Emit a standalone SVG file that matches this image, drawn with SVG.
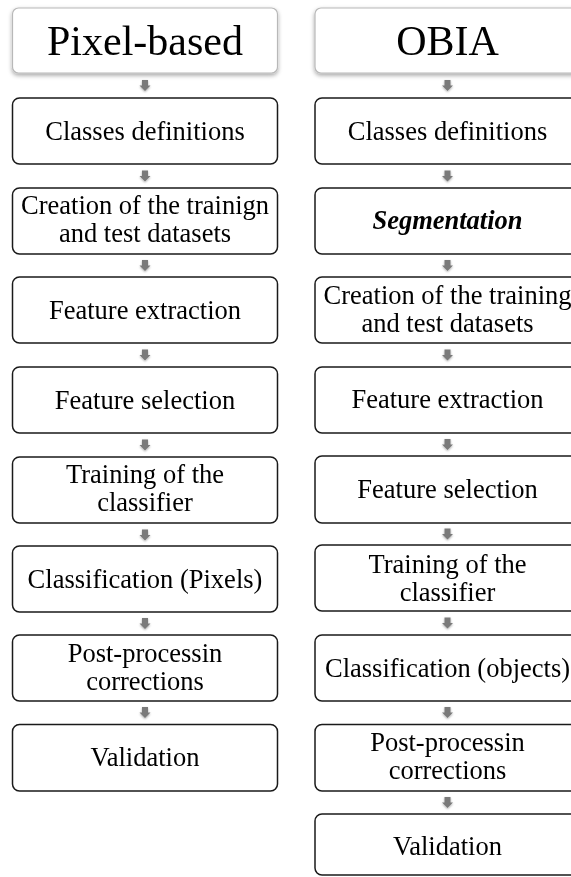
<svg xmlns="http://www.w3.org/2000/svg" width="571" height="877" viewBox="0 0 571 877">
  <style>
    .head { fill: #ffffff; stroke: #b8b8b8; stroke-width: 1.2; filter: url(#headShadow); }
    .box { fill: #ffffff; stroke: #1a1a1a; stroke-width: 1.5; }
    .ht { font-family: "Liberation Serif", "Times New Roman", serif; font-size: 42px; fill: #000; text-anchor: middle; }
    .t { font-family: "Liberation Serif", "Times New Roman", serif; font-size: 26.5px; fill: #000; text-anchor: middle; }
    .bi { font-weight: bold; font-style: italic; }
    .arrow { fill: #7a7a7a; filter: url(#arrowShadow); }
  </style>
  <defs>
    <filter id="headShadow" x="-10%" y="-20%" width="120%" height="150%">
      <feDropShadow dx="0" dy="2" stdDeviation="2" flood-color="#000" flood-opacity="0.35"/>
    </filter>
    <filter id="arrowShadow" x="-60%" y="-40%" width="220%" height="200%">
      <feDropShadow dx="0" dy="1" stdDeviation="1" flood-color="#000" flood-opacity="0.35"/>
    </filter>
    <!-- small block arrow pointing down, centred on its origin -->
    <path id="dn" d="M-3,-5.5 H3 V0 H5.5 L0,5.5 L-5.5,0 H-3 Z"/>
  </defs>

  <rect width="571" height="877" fill="#ffffff"/>

  <!-- connectors -->
  <g id="connectors" class="arrow">
    <use href="#dn" x="145" y="85.5"/>
    <use href="#dn" x="145" y="176"/>
    <use href="#dn" x="145" y="265.5"/>
    <use href="#dn" x="145" y="355"/>
    <use href="#dn" x="145" y="445"/>
    <use href="#dn" x="145" y="535"/>
    <use href="#dn" x="145" y="623.5"/>
    <use href="#dn" x="145" y="712.5"/>

    <use href="#dn" x="447.5" y="85.5"/>
    <use href="#dn" x="447.5" y="176"/>
    <use href="#dn" x="447.5" y="265.5"/>
    <use href="#dn" x="447.5" y="355"/>
    <use href="#dn" x="447.5" y="444.5"/>
    <use href="#dn" x="447.5" y="534"/>
    <use href="#dn" x="447.5" y="623"/>
    <use href="#dn" x="447.5" y="712.5"/>
    <use href="#dn" x="447.5" y="802.5"/>
  </g>

  <!-- Pixel-based column -->
  <g id="pixel-head">
    <rect class="head" x="12.5" y="8" width="265" height="65" rx="6"/>
    <text class="ht" x="145" y="55">Pixel-based</text>
  </g>
  <g id="pixel-classes">
    <rect class="box" x="12.5" y="98" width="265" height="66" rx="7"/>
    <text class="t" x="145" y="140">Classes definitions</text>
  </g>
  <g id="pixel-datasets">
    <rect class="box" x="12.5" y="188" width="265" height="66" rx="7"/>
    <text class="t" x="145" y="213.5">Creation of the trainign</text>
    <text class="t" x="145" y="241.5">and test datasets</text>
  </g>
  <g id="pixel-extraction">
    <rect class="box" x="12.5" y="277" width="265" height="66" rx="7"/>
    <text class="t" x="145" y="318.5">Feature extraction</text>
  </g>
  <g id="pixel-selection">
    <rect class="box" x="12.5" y="367" width="265" height="66" rx="7"/>
    <text class="t" x="145" y="408.5">Feature selection</text>
  </g>
  <g id="pixel-training">
    <rect class="box" x="12.5" y="457" width="265" height="66" rx="7"/>
    <text class="t" x="145" y="482.5">Training of the</text>
    <text class="t" x="145" y="510.5">classifier</text>
  </g>
  <g id="pixel-classification">
    <rect class="box" x="12.5" y="546" width="265" height="66" rx="7"/>
    <text class="t" x="145" y="587.5">Classification (Pixels)</text>
  </g>
  <g id="pixel-post">
    <rect class="box" x="12.5" y="635" width="265" height="66" rx="7"/>
    <text class="t" x="145" y="661.5">Post-processin</text>
    <text class="t" x="145" y="689.5">corrections</text>
  </g>
  <g id="pixel-validation">
    <rect class="box" x="12.5" y="724.5" width="265" height="66.5" rx="7"/>
    <text class="t" x="145" y="765.5">Validation</text>
  </g>

  <!-- OBIA column -->
  <g id="obia-head">
    <rect class="head" x="315" y="8" width="265" height="65" rx="6"/>
    <text class="ht" x="447.5" y="55">OBIA</text>
  </g>
  <g id="obia-classes">
    <rect class="box" x="315" y="98" width="265" height="66" rx="7"/>
    <text class="t" x="447.5" y="140">Classes definitions</text>
  </g>
  <g id="obia-segmentation">
    <rect class="box" x="315" y="188" width="265" height="66" rx="7"/>
    <text class="t bi" x="447.5" y="228.5">Segmentation</text>
  </g>
  <g id="obia-datasets">
    <rect class="box" x="315" y="277" width="265" height="66" rx="7"/>
    <text class="t" x="447.5" y="303.5">Creation of the training</text>
    <text class="t" x="447.5" y="331.5">and test datasets</text>
  </g>
  <g id="obia-extraction">
    <rect class="box" x="315" y="367" width="265" height="66" rx="7"/>
    <text class="t" x="447.5" y="408">Feature extraction</text>
  </g>
  <g id="obia-selection">
    <rect class="box" x="315" y="456" width="265" height="67" rx="7"/>
    <text class="t" x="447.5" y="497.5">Feature selection</text>
  </g>
  <g id="obia-training">
    <rect class="box" x="315" y="545" width="265" height="66" rx="7"/>
    <text class="t" x="447.5" y="572.5">Training of the</text>
    <text class="t" x="447.5" y="600.5">classifier</text>
  </g>
  <g id="obia-classification">
    <rect class="box" x="315" y="635" width="265" height="66" rx="7"/>
    <text class="t" x="447.5" y="676.5">Classification (objects)</text>
  </g>
  <g id="obia-post">
    <rect class="box" x="315" y="724.5" width="265" height="66.5" rx="7"/>
    <text class="t" x="447.5" y="750.5">Post-processin</text>
    <text class="t" x="447.5" y="778.5">corrections</text>
  </g>
  <g id="obia-validation">
    <rect class="box" x="315" y="814" width="265" height="61" rx="7"/>
    <text class="t" x="447.5" y="855">Validation</text>
  </g>
</svg>
